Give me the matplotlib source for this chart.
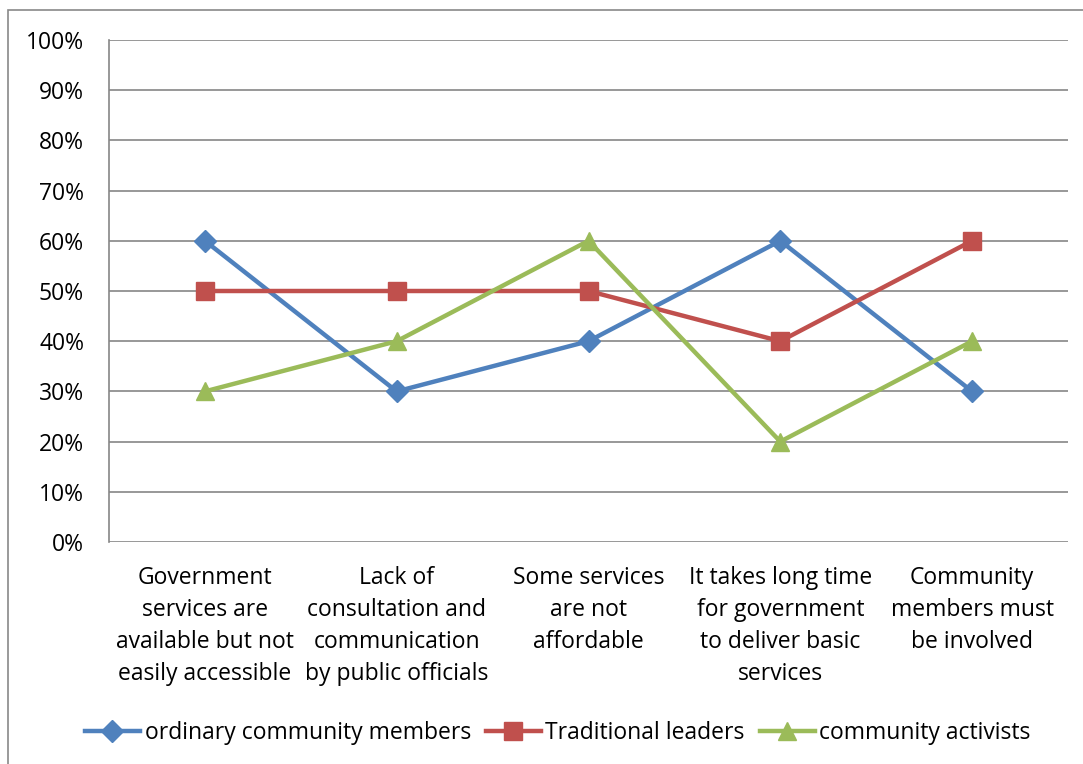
import matplotlib
matplotlib.use("Agg")
import matplotlib.pyplot as plt
from matplotlib.patches import Rectangle

categories = [
    "Government\nservices are\navailable but not\neasily accessible",
    "Lack of\nconsultation and\ncommunication\nby public officials",
    "Some services\nare not\naffordable",
    "It takes long time\nfor government\nto deliver basic\nservices",
    "Community\nmembers must\nbe involved",
]
ordinary = [60, 30, 40, 60, 30]
traditional = [50, 50, 50, 40, 60]
activists = [30, 40, 60, 20, 40]
series_names = ["ordinary community members", "Traditional leaders", "community activists"]
yticks = [0, 10, 20, 30, 40, 50, 60, 70, 80, 90, 100]

plt.rcParams['font.family'] = ['Open Sans', 'DejaVu Sans']
FS = 16.5
W, H = 1083, 764
fig = plt.figure(figsize=(W/100, H/100), dpi=100)
fig.patches.append(Rectangle((8/W, -0.1), 1.2, 1 - 10/H + 0.1, transform=fig.transFigure,
                             fill=False, edgecolor='#898989', linewidth=1.2))
ax = fig.add_axes([109/W, 1 - 542/H, (1068-109)/W, (542-40)/H])

x = list(range(len(categories)))
styles = [
    (ordinary, '#4F81BD', 'D', 11),
    (traditional, '#C0504D', 's', 13),
    (activists, '#9BBB59', '^', 13),
]
for (vals, col, mk, ms), name in zip(styles, series_names):
    ax.plot(x, vals, color=col, marker=mk, markersize=ms, linewidth=3.2, label=name,
            markeredgecolor=col)

ax.set_xlim(-0.5, 4.5)
ax.set_ylim(0, 100)
ax.set_yticks(yticks)
ax.set_yticklabels([f"{v}%" for v in yticks], fontsize=FS)
ax.yaxis.grid(True, color='#868686', linewidth=1.2)
ax.set_axisbelow(True)
ax.set_xticks(x)
ax.set_xticklabels(categories, fontsize=FS, linespacing=1.46, va='top')
ax.tick_params(axis='both', length=0)
ax.tick_params(axis='y', pad=18)
ax.tick_params(axis='x', pad=17)
for s in ['top', 'right', 'bottom']:
    ax.spines[s].set_visible(False)
ax.spines['left'].set_color('#868686')
ax.spines['left'].set_linewidth(1.2)

leg = fig.legend(loc='center', bbox_to_anchor=(0.515, 1 - 733/H), ncol=3, frameon=False,
                 fontsize=FS, handlelength=2.4, handletextpad=0.2, columnspacing=0.65)
fig.savefig("out.png", dpi=100)
